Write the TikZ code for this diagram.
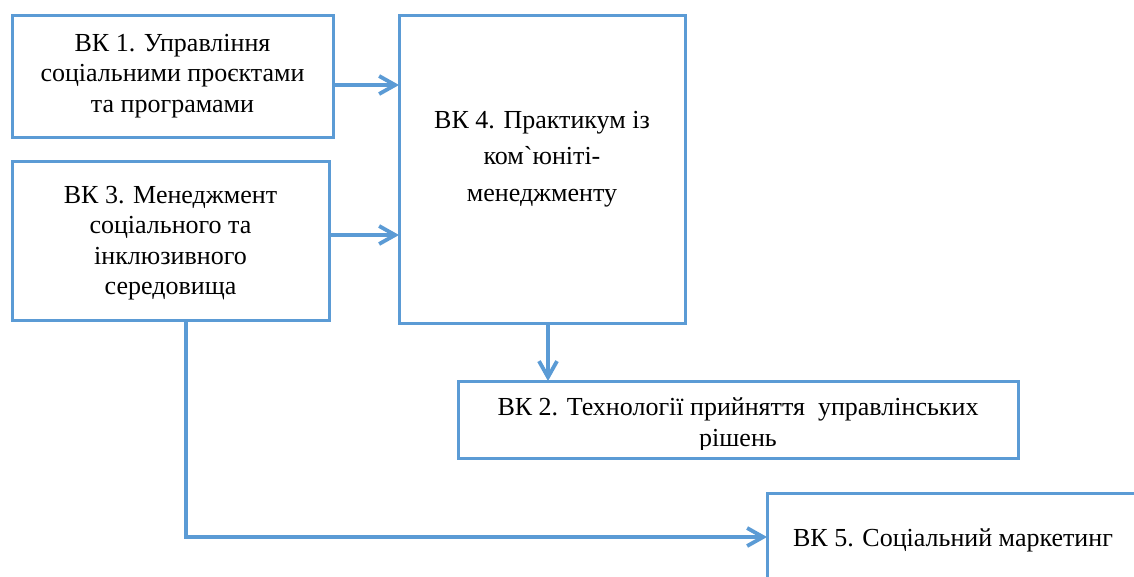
\documentclass[tikz,border=0pt]{standalone}
\usepackage{fontspec}
\setmainfont{Liberation Serif}[Ligatures=TeXOff]
\usetikzlibrary{arrows.meta}
\definecolor{lineblue}{HTML}{5B9BD5}
\tikzset{
  box/.style={draw=lineblue, line width=3pt, rectangle, inner sep=0pt, outer sep=0pt, fill=white},
  txt/.style={align=center, inner sep=0pt, font=\fontsize{26}{30.5}\selectfont},
  arr/.style={draw=lineblue, line width=3.8pt, -{Straight Barb[length=16pt, width=18pt, line width=3.8pt]}},
}
\begin{document}
\begin{tikzpicture}[x=1pt, y=-1pt]
\useasboundingbox (0,0) rectangle (1134,576);
\clip (0,0) rectangle (1134,576);
\fill[white] (0,0) rectangle (1134,576);

\node[box, minimum width=321pt, minimum height=122pt] (b1) at (172.5,76) {};
\node[txt] (t1) at (172.5,76) {ВК 1. Управління\\соціальними проєктами\\та програмами};

\node[box, minimum width=317pt, minimum height=159pt] (b3) at (170.5,240.5) {};
\node[txt] (t3) at (170.5,243) {ВК 3. Менеджмент\\соціального та\\інклюзивного\\середовища};

\node[box, minimum width=286pt, minimum height=308pt] (b4) at (542,169) {};
\node[txt, font=\fontsize{26}{36.5}\selectfont] (t4) at (542,159) {ВК 4. Практикум із\\ком`юніті-\\менеджменту};

\node[box, minimum width=560pt, minimum height=77pt] (b2) at (738,419.5) {};
\begin{scope}
\clip (460,383) rectangle (1016,449);
\node[txt] (t2) at (738,425) {ВК 2. Технології прийняття\ \ управлінських\\рішень};
\end{scope}

\node[box, minimum width=372pt, minimum height=88pt] (b5) at (953,537) {};
\node[txt] (t5) at (953,540) {ВК 5. Соціальний маркетинг};

\draw[arr] ([yshift=-9pt]b1.east) -- ([yshift=-9pt]b1.east -| b4.west);
\draw[arr] ([yshift=5.5pt]b3.east) -- ([yshift=5.5pt]b3.east -| b4.west);
\draw[arr] ([xshift=6pt]b4.south) -- ([xshift=6pt]b4.south |- b2.north);
\draw[arr] ([xshift=15.5pt]b3.south) |- (b5.west);
\end{tikzpicture}
\end{document}
